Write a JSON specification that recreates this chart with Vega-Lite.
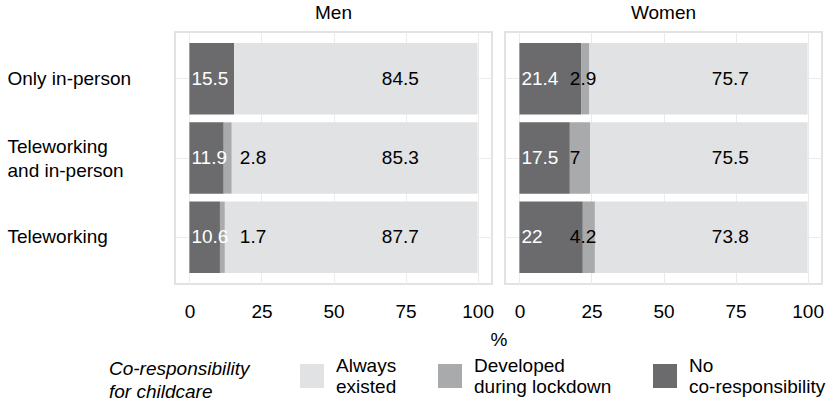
{
  "$schema": "https://vega.github.io/schema/vega-lite/v6.json",
  "background": "white",
  "padding": {"left": 7, "top": 4, "right": 5, "bottom": 0},
  "config": {
    "font": "Liberation Sans",
    "view": {"stroke": "#e2e2e2", "strokeWidth": 2}
  },
  "data": {
    "values": [
      {"sex": "Men", "mode": "Only in-person", "category": "No co-responsibility", "value": 15.5},
      {"sex": "Men", "mode": "Only in-person", "category": "Developed during lockdown", "value": 0},
      {"sex": "Men", "mode": "Only in-person", "category": "Always existed", "value": 84.5},
      {"sex": "Men", "mode": "Teleworking and in-person", "category": "No co-responsibility", "value": 11.9},
      {"sex": "Men", "mode": "Teleworking and in-person", "category": "Developed during lockdown", "value": 2.8},
      {"sex": "Men", "mode": "Teleworking and in-person", "category": "Always existed", "value": 85.3},
      {"sex": "Men", "mode": "Teleworking", "category": "No co-responsibility", "value": 10.6},
      {"sex": "Men", "mode": "Teleworking", "category": "Developed during lockdown", "value": 1.7},
      {"sex": "Men", "mode": "Teleworking", "category": "Always existed", "value": 87.7},
      {"sex": "Women", "mode": "Only in-person", "category": "No co-responsibility", "value": 21.4},
      {"sex": "Women", "mode": "Only in-person", "category": "Developed during lockdown", "value": 2.9},
      {"sex": "Women", "mode": "Only in-person", "category": "Always existed", "value": 75.7},
      {"sex": "Women", "mode": "Teleworking and in-person", "category": "No co-responsibility", "value": 17.5},
      {"sex": "Women", "mode": "Teleworking and in-person", "category": "Developed during lockdown", "value": 7},
      {"sex": "Women", "mode": "Teleworking and in-person", "category": "Always existed", "value": 75.5},
      {"sex": "Women", "mode": "Teleworking", "category": "No co-responsibility", "value": 22},
      {"sex": "Women", "mode": "Teleworking", "category": "Developed during lockdown", "value": 4.2},
      {"sex": "Women", "mode": "Teleworking", "category": "Always existed", "value": 73.8}
    ]
  },
  "spacing": 11,
  "facet": {
    "column": {
      "field": "sex",
      "type": "nominal",
      "sort": ["Men", "Women"],
      "header": {
        "title": "%",
        "titleOrient": "bottom",
        "titleFontSize": 19,
        "titleFontWeight": "normal",
        "titleColor": "black",
        "titlePadding": 0,
        "labelOrient": "top",
        "labelFontSize": 19,
        "labelColor": "black",
        "labelPadding": 8
      }
    }
  },
  "spec": {
    "width": 317,
    "height": 252,
    "encoding": {
      "y": {
        "field": "mode",
        "type": "nominal",
        "sort": ["Only in-person", "Teleworking and in-person", "Teleworking"],
        "scale": {"paddingInner": 0.1, "paddingOuter": 0.14},
        "axis": {
          "title": null,
          "labelAlign": "left",
          "labelPadding": 167,
          "labelOffset": {"condition": {"test": "datum.value == 'Teleworking and in-person'", "value": -11}, "value": 0},
          "ticks": false,
          "domain": false,
          "grid": true,
          "bandPosition": 0.5,
          "gridColor": "#ebebeb",
          "gridWidth": 1,
          "labelFontSize": 19,
          "labelColor": "black",
          "labelLineHeight": 24,
          "labelExpr": "datum.label == 'Teleworking and in-person' ? ['Teleworking', 'and in-person'] : datum.label"
        }
      }
    },
    "layer": [
      {
        "mark": {"type": "bar"},
        "encoding": {
          "x": {
            "field": "value",
            "type": "quantitative",
            "stack": "zero",
            "scale": {"domain": [-5, 105], "nice": false, "zero": false},
            "axis": {
              "title": null,
              "values": [0, 25, 50, 75, 100],
              "ticks": false,
              "domain": false,
              "grid": true,
              "gridColor": "#ebebeb",
              "gridWidth": 1,
              "labelFontSize": 19,
              "labelColor": "black",
              "labelPadding": 17,
              "labelFlush": false
            }
          },
          "color": {
            "field": "category",
            "type": "nominal",
            "scale": {
              "domain": ["Always existed", "Developed during lockdown", "No co-responsibility"],
              "range": ["#e1e2e4", "#a9aaac", "#6b6b6d"]
            },
            "legend": {
              "orient": "none",
              "legendX": -66,
              "legendY": 332,
              "direction": "horizontal",
              "title": ["Co-responsibility", "for childcare"],
              "titleOrient": "left",
              "titleFontStyle": "italic",
              "titleFontWeight": "normal",
              "titleFontSize": 19,
              "titleLineHeight": 23,
              "titleColor": "black",
              "titlePadding": 50,
              "labelFontSize": 19,
              "labelColor": "black",
              "labelLimit": 300,
              "labelOffset": 12,
              "labelBaseline": "bottom",
              "labelExpr": "datum.label == 'Always existed' ? ['Always', 'existed'] : datum.label == 'Developed during lockdown' ? ['Developed', 'during lockdown'] : ['No', 'co-responsibility']",
              "symbolType": "square",
              "symbolSize": 576,
              "symbolStrokeWidth": 0,
              "symbolOpacity": 1,
              "columnPadding": 41,
              "padding": 0
            }
          },
          "order": {"field": "category", "sort": "descending"}
        }
      },
      {
        "transform": [{"filter": "datum.category == 'No co-responsibility'"}],
        "mark": {"type": "text", "align": "left", "baseline": "middle", "dx": 2, "fontSize": 19, "color": "white"},
        "encoding": {
          "x": {"datum": 0, "type": "quantitative"},
          "text": {"field": "value", "type": "nominal"}
        }
      },
      {
        "transform": [{"filter": "datum.category == 'Developed during lockdown' && datum.value > 0"}],
        "mark": {"type": "text", "align": "left", "baseline": "middle", "fontSize": 19, "color": "black"},
        "encoding": {
          "x": {"datum": 17.5, "type": "quantitative"},
          "text": {"field": "value", "type": "nominal"}
        }
      },
      {
        "transform": [{"filter": "datum.category == 'Always existed'"}],
        "mark": {"type": "text", "align": "center", "baseline": "middle", "fontSize": 19, "color": "black"},
        "encoding": {
          "x": {"datum": 73.2, "type": "quantitative"},
          "text": {"field": "value", "type": "nominal"}
        }
      }
    ]
  }
}
